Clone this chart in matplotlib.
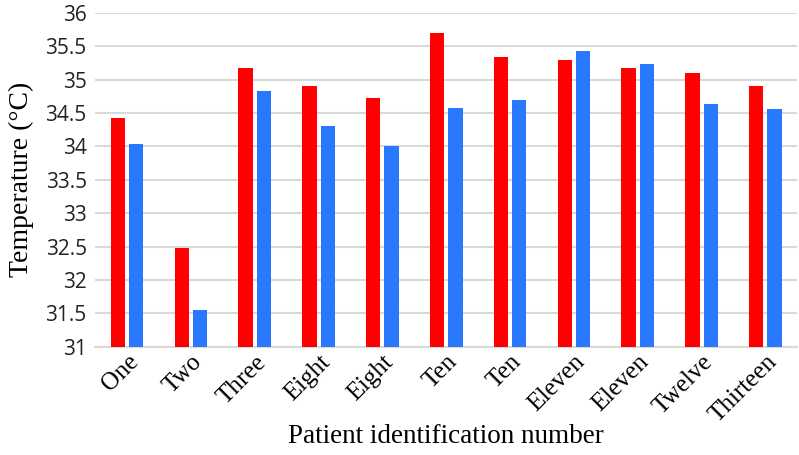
import numpy as np
import matplotlib.pyplot as plt

patients = ['One', 'Two', 'Three', 'Eight', 'Eight', 'Ten', 'Ten',
            'Eleven', 'Eleven', 'Twelve', 'Thirteen']
red_vals = [34.43, 32.48, 35.17, 34.90, 34.73, 35.70, 35.33, 35.29, 35.18, 35.10, 34.90]
blue_vals = [34.03, 31.55, 34.83, 34.31, 34.00, 34.57, 34.69, 35.43, 35.23, 34.63, 34.56]
y_ticks = [31, 31.5, 32, 32.5, 33, 33.5, 34, 34.5, 35, 35.5, 36]

fig = plt.figure(figsize=(7.99, 4.55), dpi=100)
ax = fig.add_axes([0.119, 0.238, 0.879, 0.734])

x = np.arange(len(patients))
w = 0.224
gap = 0.063
ax.bar(x - (w + gap) / 2, red_vals, w, color='#FF0000', zorder=3)
ax.bar(x + (w + gap) / 2, blue_vals, w, color='#2979FF', zorder=3)

ax.set_ylim(31, 36)
ax.set_xlim(-0.5, len(patients) - 0.5)
ax.set_yticks(y_ticks)
ax.set_yticklabels(['{:g}'.format(v) for v in y_ticks],
                   fontfamily='Open Sans', fontsize=15, color='#222222')
ax.yaxis.grid(True, color='#D9D9D9', linewidth=1.5, zorder=0)
ax.tick_params(axis='y', length=0, pad=6)
ax.tick_params(axis='x', length=0, pad=3)

ax.set_xticks(x)
ax.set_xticklabels(patients, rotation=45, ha='right', rotation_mode='anchor',
                   fontfamily='Liberation Serif', fontsize=18)

for s in ['top', 'right', 'left']:
    ax.spines[s].set_visible(False)
ax.spines['bottom'].set_color('#D9D9D9')
ax.spines['bottom'].set_linewidth(1.5)

ax.set_ylabel('Temperature (°C)', fontfamily='Liberation Serif', fontsize=20, labelpad=8)
ax.set_xlabel('Patient identification number', fontfamily='Liberation Serif',
              fontsize=19.5)
ax.xaxis.set_label_coords(0.5, -0.232)

fig.savefig('out.png', dpi=100)
